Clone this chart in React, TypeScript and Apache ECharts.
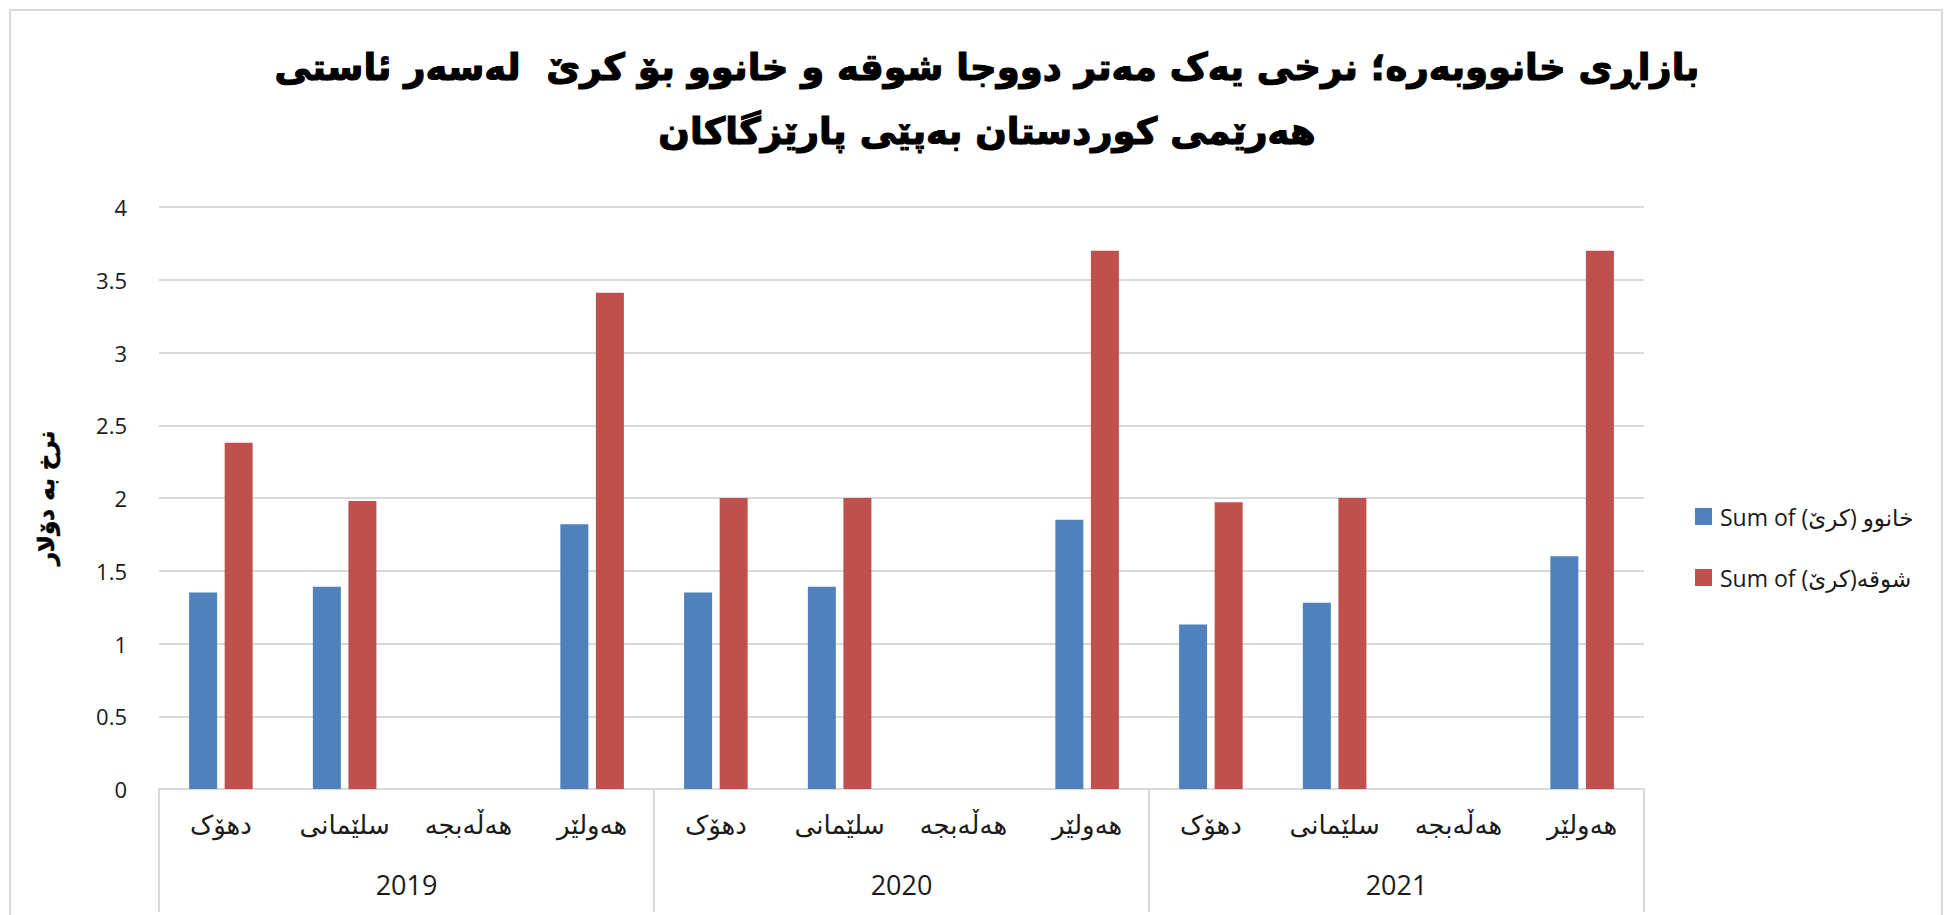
import React, { useEffect, useRef } from "react";
import * as echarts from "echarts";

const titleLines = [
  "بازاڕی خانووبەرە؛ نرخی یەک مەتر دووجا شوقە و خانوو بۆ کرێ  لەسەر ئاستی",
  "هەرێمی کوردستان بەپێی پارێزگاکان",
];
const yAxisTitle = "نرخ بە دۆلار";
const provinces = ["دهۆک", "سلێمانی", "هەڵەبجە", "هەولێر"];
const years = ["2019", "2020", "2021"];
const seriesNames = ["Sum of خانوو (کرێ)", "Sum of شوقە(کرێ)"];
const houseRent = [1.35, 1.39, null, 1.82, 1.35, 1.39, null, 1.85, 1.13, 1.28, null, 1.6];
const apartmentRent = [2.38, 1.98, null, 3.41, 2.0, 2.0, null, 3.7, 1.97, 2.0, null, 3.7];

const FONT = "'Open Sans', 'DejaVu Sans', sans-serif";
const GRID = "#d9d9d9";
const TEXT = "#1a1a1a";

export default function App() {
  const ref = useRef<HTMLDivElement>(null);
  useEffect(() => {
    document.body.style.margin = "0";
    const chart = echarts.init(ref.current!, null, { renderer: "svg" });
    const categories: string[] = [];
    years.forEach(() => provinces.forEach((p) => categories.push(p)));
    chart.setOption({
      animation: false,
      backgroundColor: "#ffffff",
      textStyle: { fontFamily: FONT },
      title: {
        text: titleLines.join("\n"),
        left: 982,
        top: 30,
        textAlign: "center",
        textStyle: {
          fontFamily: "'DejaVu Sans', sans-serif",
          fontWeight: "bold",
          fontSize: 37,
          lineHeight: 64,
          color: "#000",
          textBorderColor: "#000",
          textBorderWidth: 1.2,
        },
      },
      graphic: [
        {
          type: "rect",
          shape: { x: 10, y: 10, width: 1932, height: 1000 },
          style: { fill: "none", stroke: GRID, lineWidth: 2 },
          silent: true,
        },
      ],
      legend: {
        orient: "vertical",
        left: 1690,
        top: 500,
        itemWidth: 17,
        itemHeight: 17,
        itemGap: 38,
        icon: "rect",
        textStyle: { fontSize: 23, color: TEXT, fontFamily: FONT, padding: [0, 0, 0, 3] },
        data: seriesNames,
      },
      grid: { left: 159, right: 301, top: 207, bottom: 126, containLabel: false },
      xAxis: [
        {
          type: "category",
          data: categories,
          position: "bottom",
          axisLine: { show: true, lineStyle: { color: GRID, width: 2 } },
          axisTick: { show: false },
          axisLabel: { interval: 0, margin: 22, fontSize: 26, color: TEXT, fontFamily: FONT },
        },
        {
          type: "category",
          data: years,
          position: "bottom",
          axisLine: { show: false },
          axisTick: { show: true, length: 123, interval: 0, lineStyle: { color: GRID, width: 2 } },
          axisLabel: { interval: 0, margin: 82, fontSize: 27, color: TEXT, fontFamily: FONT },
          splitLine: { show: false },
        },
      ],
      yAxis: {
        type: "value",
        min: 0,
        max: 4,
        interval: 0.5,
        name: yAxisTitle,
        nameLocation: "middle",
        nameRotate: 90,
        nameGap: 102,
        nameTextStyle: {
          fontFamily: "'DejaVu Sans', sans-serif",
          fontWeight: "bold",
          fontSize: 23,
          color: "#000",
          textBorderColor: "#000",
          textBorderWidth: 0.6,
        },
        axisLine: { show: false },
        axisTick: { show: false },
        axisLabel: { margin: 32, fontSize: 22, color: TEXT, fontFamily: FONT },
        splitLine: { lineStyle: { color: GRID, width: 2 } },
      },
      series: [
        {
          name: seriesNames[0],
          type: "bar",
          xAxisIndex: 0,
          data: houseRent,
          barWidth: 28,
          barGap: "27%",
          itemStyle: { color: "#4F81BD" },
        },
        {
          name: seriesNames[1],
          type: "bar",
          xAxisIndex: 0,
          data: apartmentRent,
          barWidth: 28,
          barGap: "27%",
          itemStyle: { color: "#C0504D" },
        },
      ],
    });
    return () => chart.dispose();
  }, []);
  return <div ref={ref} style={{ width: 1945, height: 915 }} />;
}
